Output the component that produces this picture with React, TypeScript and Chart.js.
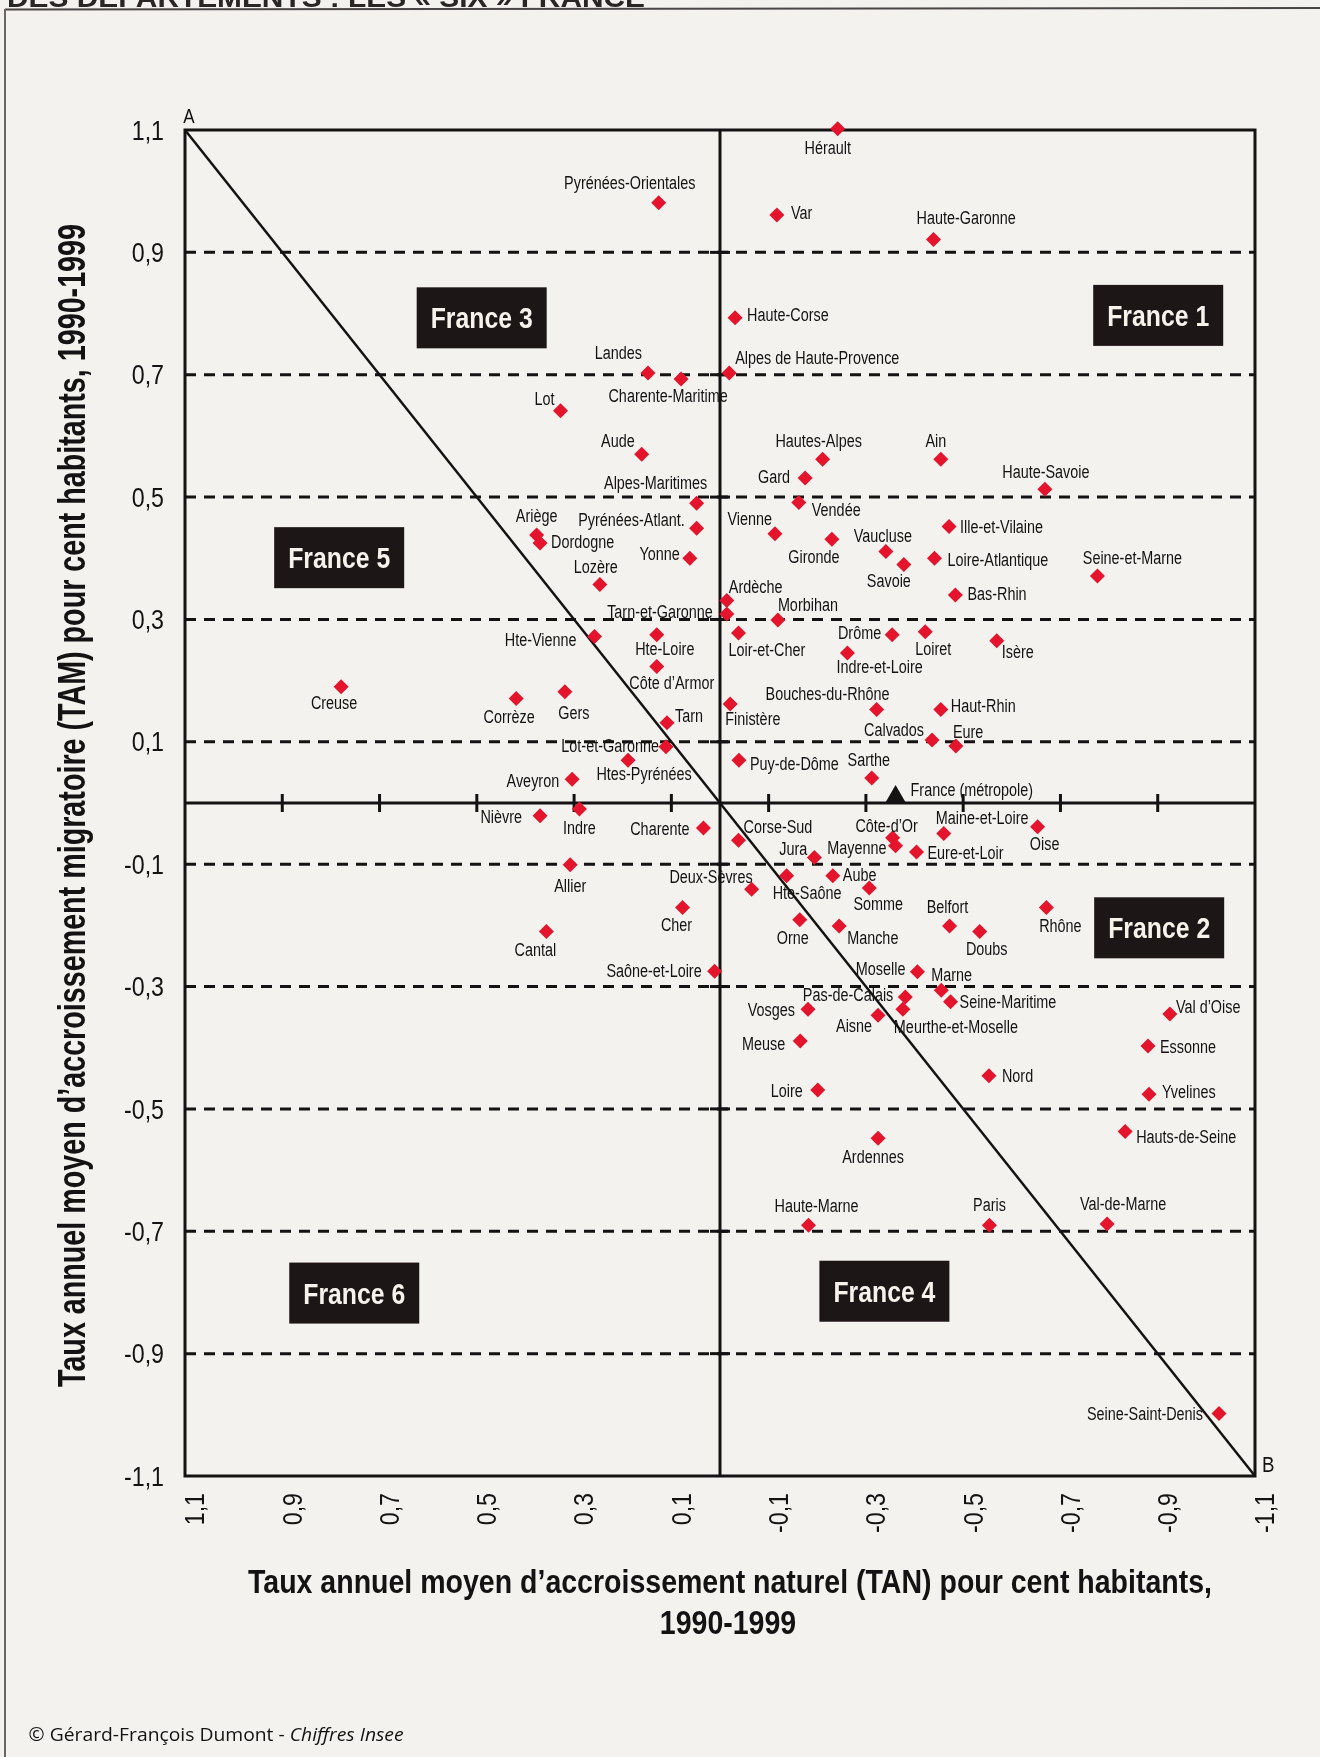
import React, { useEffect, useRef } from "react";
import { Chart, registerables } from "chart.js";

Chart.register(...registerables);

// ---------------- DATA ----------------
const DEPARTMENTS = [
  "Hérault", "Pyrénées-Orientales", "Var", "Haute-Garonne", "Haute-Corse",
  "Alpes de Haute-Provence", "Landes", "Charente-Maritime", "Lot", "Aude",
  "Hautes-Alpes", "Ain", "Gard", "Haute-Savoie", "Alpes-Maritimes",
  "Vendée", "Pyrénées-Atlant.", "Vienne", "Ille-et-Vilaine", "Ariège",
  "Dordogne", "Gironde", "Vaucluse", "Loire-Atlantique", "Seine-et-Marne",
  "Yonne", "Lozère", "Savoie", "Bas-Rhin", "Ardèche",
  "Tarn-et-Garonne", "Morbihan", "Hte-Vienne", "Hte-Loire", "Loir-et-Cher",
  "Drôme", "Loiret", "Isère", "Indre-et-Loire", "Côte d’Armor",
  "Creuse", "Corrèze", "Gers", "Tarn", "Finistère",
  "Bouches-du-Rhône", "Haut-Rhin", "Calvados", "Eure", "Lot-et-Garonne",
  "Htes-Pyrénées", "Puy-de-Dôme", "Sarthe", "Aveyron", "Nièvre",
  "Indre", "Charente", "Corse-Sud", "Côte-d’Or", "Mayenne",
  "Maine-et-Loire", "Oise", "Eure-et-Loir", "Jura", "Allier",
  "Deux-Sèvres", "Hte-Saône", "Aube", "Somme", "Belfort",
  "Rhône", "Cher", "Orne", "Manche", "Doubs",
  "Cantal", "Saône-et-Loire", "Moselle", "Marne", "Pas-de-Calais",
  "Seine-Maritime", "Meurthe-et-Moselle", "Aisne", "Vosges", "Val d’Oise",
  "Meuse", "Essonne", "Nord", "Loire", "Yvelines",
  "Hauts-de-Seine", "Ardennes", "Haute-Marne", "Paris", "Val-de-Marne",
  "Seine-Saint-Denis",
];

// Taux annuel moyen d'accroissement naturel (x axis, as labelled)
const TAN = [
  -0.242, 0.126, -0.117, -0.439, -0.031,
  -0.019, 0.148, 0.080, 0.328, 0.161,
  -0.211, -0.454, -0.175, -0.668, 0.048,
  -0.162, 0.048, -0.113, -0.471, 0.377,
  0.370, -0.230, -0.341, -0.441, -0.776,
  0.062, 0.247, -0.378, -0.484, -0.014,
  -0.014, -0.119, 0.258, 0.130, -0.038,
  -0.354, -0.422, -0.569, -0.262, 0.130,
  0.779, 0.419, 0.319, 0.109, -0.021,
  -0.322, -0.454, -0.436, -0.485, 0.111,
  0.189, -0.039, -0.312, 0.304, 0.370,
  0.289, 0.034, -0.038, -0.355, -0.361,
  -0.460, -0.653, -0.404, -0.194, 0.308,
  -0.065, -0.137, -0.232, -0.307, -0.472,
  -0.671, 0.077, -0.164, -0.245, -0.534,
  0.357, 0.011, -0.406, -0.455, -0.381,
  -0.474, -0.376, -0.325, -0.181, -0.925,
  -0.165, -0.880, -0.553, -0.201, -0.882,
  -0.833, -0.325, -0.182, -0.554, -0.796,
  -1.026,
];

// Taux annuel moyen d'accroissement migratoire (y axis)
const TAM = [
  1.102, 0.981, 0.961, 0.921, 0.793,
  0.703, 0.703, 0.693, 0.641, 0.570,
  0.562, 0.562, 0.531, 0.513, 0.490,
  0.491, 0.449, 0.440, 0.452, 0.438,
  0.425, 0.431, 0.411, 0.400, 0.371,
  0.400, 0.357, 0.390, 0.340, 0.331,
  0.309, 0.299, 0.272, 0.275, 0.278,
  0.275, 0.280, 0.265, 0.245, 0.223,
  0.190, 0.171, 0.182, 0.131, 0.162,
  0.153, 0.153, 0.103, 0.093, 0.092,
  0.070, 0.070, 0.041, 0.039, -0.021,
  -0.010, -0.041, -0.061, -0.057, -0.070,
  -0.050, -0.039, -0.080, -0.089, -0.101,
  -0.141, -0.119, -0.119, -0.139, -0.201,
  -0.171, -0.171, -0.191, -0.201, -0.210,
  -0.210, -0.275, -0.276, -0.306, -0.317,
  -0.325, -0.337, -0.347, -0.337, -0.345,
  -0.389, -0.397, -0.446, -0.469, -0.476,
  -0.537, -0.548, -0.690, -0.690, -0.688,
  -0.998,
];

const FRANCE_LABEL = "France (métropole)";
const FRANCE_TAN = -0.361;
const FRANCE_TAM = 0.01;

const GROUP_NAMES = ["France 1", "France 2", "France 3", "France 4", "France 5", "France 6"];
const GROUP_TAN = [-0.901, -0.903, 0.49, -0.338, 0.783, 0.752];
const GROUP_TAM = [0.797, -0.204, 0.793, -0.798, 0.401, -0.801];

const TICK_VALUES = [1.1, 0.9, 0.7, 0.5, 0.3, 0.1, -0.1, -0.3, -0.5, -0.7, -0.9, -1.1];
const TICK_LABELS = ["1,1", "0,9", "0,7", "0,5", "0,3", "0,1", "-0,1", "-0,3", "-0,5", "-0,7", "-0,9", "-1,1"];

const TITLE_X_1 = "Taux annuel moyen d’accroissement naturel (TAN) pour cent habitants,";
const TITLE_X_2 = "1990-1999";
const TITLE_Y = "Taux annuel moyen d’accroissement migratoire (TAM) pour cent habitants, 1990-1999";
const HEADER = "DES DÉPARTEMENTS : LES « SIX » FRANCE";
const CREDIT_1 = "© Gérard-François Dumont - ";
const CREDIT_2 = "Chiffres Insee";

// ---------------- LAYOUT / STYLE ----------------
// label placement relative to each point: [dx, dy, anchor]
const LABEL_PLACEMENT: [number, number, string][] = [
  [-10, 19, "c"], [-29, -20, "c"], [14, -3, "l"], [-17, -22, "l"], [12, -3, "l"],
  [6, -15, "l"], [-6, -20, "r"], [-13, 16, "c"], [-6, -12, "r"], [-7, -14, "r"],
  [-4, -19, "c"], [-5, -19, "c"], [-15, -2, "r"], [1, -18, "c"], [-41, -21, "c"],
  [13, 7, "l"], [-12, -9, "r"], [-3, -15, "r"], [11, 0, "l"], [0, -20, "c"],
  [11, -1, "l"], [-18, 17, "c"], [-3, -16, "c"], [13, 1, "l"], [35, -19, "c"],
  [-10, -5, "r"], [-4, -18, "c"], [-15, 16, "c"], [12, -1, "l"], [2, -14, "l"],
  [-14, -2, "r"], [0, -16, "l"], [-18, 3, "r"], [8, 14, "c"], [-10, 17, "l"],
  [-11, -2, "r"], [8, 17, "c"], [5, 11, "l"], [-11, 13, "l"], [15, 16, "c"],
  [-7, 16, "c"], [-7, 18, "c"], [9, 21, "c"], [8, -7, "l"], [-5, 15, "l"],
  [13, -16, "r"], [10, -4, "l"], [-8, -10, "r"], [-3, -15, "l"], [-7, -1, "r"],
  [16, 13, "c"], [11, 3, "l"], [-3, -18, "c"], [-13, 1, "r"], [-18, 1, "r"],
  [0, 18, "c"], [-14, 0, "r"], [5, -14, "l"], [-6, -12, "c"], [-9, 2, "r"],
  [-8, -16, "l"], [7, 17, "c"], [11, 1, "l"], [-7, -9, "r"], [0, 21, "c"],
  [1, -13, "r"], [-14, 17, "l"], [10, -1, "l"], [9, 15, "c"], [-2, -19, "c"],
  [14, 18, "c"], [-6, 17, "c"], [-7, 18, "c"], [8, 12, "l"], [7, 17, "c"],
  [-11, 18, "c"], [-13, -1, "r"], [-12, -3, "r"], [-10, -16, "l"], [-12, -2, "r"],
  [9, 0, "l"], [-9, 17, "l"], [-6, 10, "r"], [-13, 0, "r"], [6, -8, "l"],
  [-15, 3, "r"], [12, 1, "l"], [13, 0, "l"], [-15, 1, "r"], [13, -3, "l"],
  [11, 5, "l"], [-5, 18, "c"], [8, -20, "c"], [0, -21, "c"], [16, -20, "c"],
  [-16, 0, "r"],
];
const FRANCE_PLACEMENT: [number, number, string] = [15, -7, "l"];

const BG = "#f4f2ef";
const INK = "#141212";
const RED = "#e3142b";
const SANS = '"Liberation Sans", Arial, sans-serif';

type Ctx = CanvasRenderingContext2D;

function drawText(ctx: Ctx, text: string, x: number, y: number, font: string, sx: number, align: CanvasTextAlign, color: string, rot = 0) {
  ctx.save();
  ctx.translate(x, y);
  if (rot) ctx.rotate(rot);
  ctx.scale(sx, 1);
  ctx.font = font;
  ctx.textAlign = align;
  ctx.textBaseline = "alphabetic";
  ctx.fillStyle = color;
  ctx.fillText(text, 0, 0);
  ctx.restore();
}

function measure(ctx: Ctx, text: string, font: string) {
  ctx.save();
  ctx.font = font;
  const w = ctx.measureText(text).width;
  ctx.restore();
  return w;
}

function fitText(ctx: Ctx, text: string, x: number, y: number, width: number, font: string, align: CanvasTextAlign, color: string, rot = 0) {
  const w = measure(ctx, text, font);
  drawText(ctx, text, x, y, font, width / w, align, color, rot);
  return width / w;
}

function line(ctx: Ctx, x1: number, y1: number, x2: number, y2: number) {
  ctx.beginPath();
  ctx.moveTo(x1, y1);
  ctx.lineTo(x2, y2);
  ctx.stroke();
}

const decorPlugin = {
  id: "decor",
  beforeDraw(chart: any) {
    const ctx: Ctx = chart.ctx;
    ctx.save();
    ctx.fillStyle = BG;
    ctx.fillRect(0, 0, chart.width, chart.height);
    // page header (cut at top) and page rules
    fitText(ctx, HEADER, 7, 7, 638, `bold 28px ${SANS}`, "left", "#2a2626");
    ctx.strokeStyle = "#4a4646";
    ctx.lineWidth = 2;
    line(ctx, 5, 9.5, chart.width, 8);
    ctx.strokeStyle = "#6a6666";
    line(ctx, 5, 9, 5, chart.height);
    ctx.restore();
  },
  beforeDatasetsDraw(chart: any) {
    const ctx: Ctx = chart.ctx;
    const xs = chart.scales.x;
    const ys = chart.scales.y;
    const L = xs.getPixelForValue(1.1);
    const R = xs.getPixelForValue(-1.1);
    const T = ys.getPixelForValue(1.1);
    const B = ys.getPixelForValue(-1.1);
    const x0 = xs.getPixelForValue(0);
    const y0 = ys.getPixelForValue(0);
    const inner = TICK_VALUES.filter((v) => Math.abs(v) < 1.05);
    ctx.save();
    ctx.strokeStyle = INK;
    // dashed horizontal lines
    ctx.lineWidth = 3;
    ctx.setLineDash([11, 8]);
    inner.forEach((v) => {
      const y = ys.getPixelForValue(v);
      line(ctx, L, y, R, y);
    });
    ctx.setLineDash([]);
    // zero axes
    ctx.lineWidth = 3;
    line(ctx, L, y0, R, y0);
    line(ctx, x0, T, x0, B);
    // tick marks
    inner.forEach((v) => {
      const x = xs.getPixelForValue(v);
      line(ctx, x, y0 - 9, x, y0 + 9);
      const y = ys.getPixelForValue(v);
      line(ctx, x0 - 10, y, x0 + 10, y);
    });
    // diagonal A -> B
    ctx.lineWidth = 2.5;
    line(ctx, xs.getPixelForValue(1.1), ys.getPixelForValue(1.1), xs.getPixelForValue(-1.1), ys.getPixelForValue(-1.1));
    // frame
    ctx.lineWidth = 3;
    ctx.strokeRect(L, T, R - L, B - T);
    ctx.restore();
  },
  afterDatasetsDraw(chart: any) {
    const ctx: Ctx = chart.ctx;
    const xs = chart.scales.x;
    const ys = chart.scales.y;
    const labelFont = `18px ${SANS}`;
    const LSX = 0.8;
    const alignOf = (a: string): CanvasTextAlign => (a === "l" ? "left" : a === "r" ? "right" : "center");

    // department labels
    DEPARTMENTS.forEach((name, i) => {
      const px = xs.getPixelForValue(TAN[i]);
      const py = ys.getPixelForValue(TAM[i]);
      const [dx, dy, a] = LABEL_PLACEMENT[i];
      drawText(ctx, name, px + dx, py + dy + 6.5, labelFont, LSX, alignOf(a), INK);
    });
    {
      const px = xs.getPixelForValue(FRANCE_TAN);
      const py = ys.getPixelForValue(FRANCE_TAM);
      const [dx, dy, a] = FRANCE_PLACEMENT;
      drawText(ctx, FRANCE_LABEL, px + dx, py + dy + 6.5, labelFont, LSX, alignOf(a), INK);
    }

    // group boxes
    GROUP_NAMES.forEach((g, i) => {
      const cx = xs.getPixelForValue(GROUP_TAN[i]);
      const cy = ys.getPixelForValue(GROUP_TAM[i]);
      ctx.save();
      ctx.fillStyle = "#1c1616";
      ctx.fillRect(cx - 65, cy - 30.5, 130, 61);
      ctx.restore();
      fitText(ctx, g, cx, cy + 10.5, 102, `bold 30px ${SANS}`, "center", "#f7f3ec");
    });

    // tick labels
    const TS = 27;
    const tickFont = `${TS}px ${SANS}`;
    const cap = 0.716 * TS;
    const bottom = ys.getPixelForValue(-1.1);
    TICK_VALUES.forEach((v, i) => {
      const y = ys.getPixelForValue(v);
      drawText(ctx, TICK_LABELS[i], 164, y + cap / 2, tickFont, 0.86, "right", INK);
      const x = xs.getPixelForValue(v);
      drawText(ctx, TICK_LABELS[i], x + cap, bottom + 17, tickFont, 0.86, "right", INK, -Math.PI / 2);
    });

    // A / B corner letters
    drawText(ctx, "A", xs.getPixelForValue(1.1) + 4, ys.getPixelForValue(1.1) - 7, `20px ${SANS}`, 0.85, "center", INK);
    drawText(ctx, "B", xs.getPixelForValue(-1.1) + 7, ys.getPixelForValue(-1.1) - 4, `22px ${SANS}`, 0.85, "left", INK);

    // axis titles
    const sxTitle = fitText(ctx, TITLE_X_1, 248, 1593, 964, `bold 33px ${SANS}`, "left", INK);
    drawText(ctx, TITLE_X_2, 728, 1634, `bold 33px ${SANS}`, sxTitle, "center", INK);
    fitText(ctx, TITLE_Y, 85, 1387, 1163, `bold 38px ${SANS}`, "left", INK, -Math.PI / 2);

    // credit line
    const f1 = `18px "Open Sans", ${SANS}`;
    const f2 = `italic 18px "Open Sans", ${SANS}`;
    const w1 = measure(ctx, CREDIT_1, f1);
    const w2 = measure(ctx, CREDIT_2, f2);
    const s = 375 / (w1 + w2);
    drawText(ctx, CREDIT_1, 28.6, 1741, f1, s, "left", INK);
    drawText(ctx, CREDIT_2, 28.6 + w1 * s, 1741, f2, s, "left", INK);
  },
};

export default function App() {
  const ref = useRef<HTMLCanvasElement>(null);
  useEffect(() => {
    document.body.style.margin = "0";
    const canvas = ref.current;
    if (!canvas) return;
    const chart = new Chart(canvas, {
      type: "scatter",
      data: {
        datasets: [
          {
            label: "Départements",
            data: DEPARTMENTS.map((_, i) => ({ x: TAN[i], y: TAM[i] })),
            pointStyle: "rectRot",
            pointRadius: 7.5,
            pointBackgroundColor: RED,
            backgroundColor: RED,
            borderWidth: 0,
            pointBorderWidth: 0,
            clip: false,
          } as any,
          {
            label: FRANCE_LABEL,
            data: [{ x: FRANCE_TAN, y: FRANCE_TAM }],
            pointStyle: "triangle",
            pointRadius: 12,
            pointBackgroundColor: INK,
            backgroundColor: INK,
            borderWidth: 0,
            pointBorderWidth: 0,
            clip: false,
          } as any,
        ],
      },
      options: {
        responsive: false,
        animation: false,
        devicePixelRatio: 1,
        events: [],
        layout: { padding: { left: 185, top: 130, right: 65, bottom: 281 } },
        plugins: { legend: { display: false }, tooltip: { enabled: false } },
        scales: {
          x: { type: "linear", min: -1.1, max: 1.1, reverse: true, display: false },
          y: { type: "linear", min: -1.1, max: 1.1, display: false },
        },
      },
      plugins: [decorPlugin],
    });
    return () => chart.destroy();
  }, []);
  return (
    <div style={{ position: "absolute", left: 0, top: 0, width: 1320, height: 1757, overflow: "hidden" }}>
      <canvas ref={ref} width={1320} height={1757} style={{ display: "block", width: 1320, height: 1757 }} />
    </div>
  );
}
